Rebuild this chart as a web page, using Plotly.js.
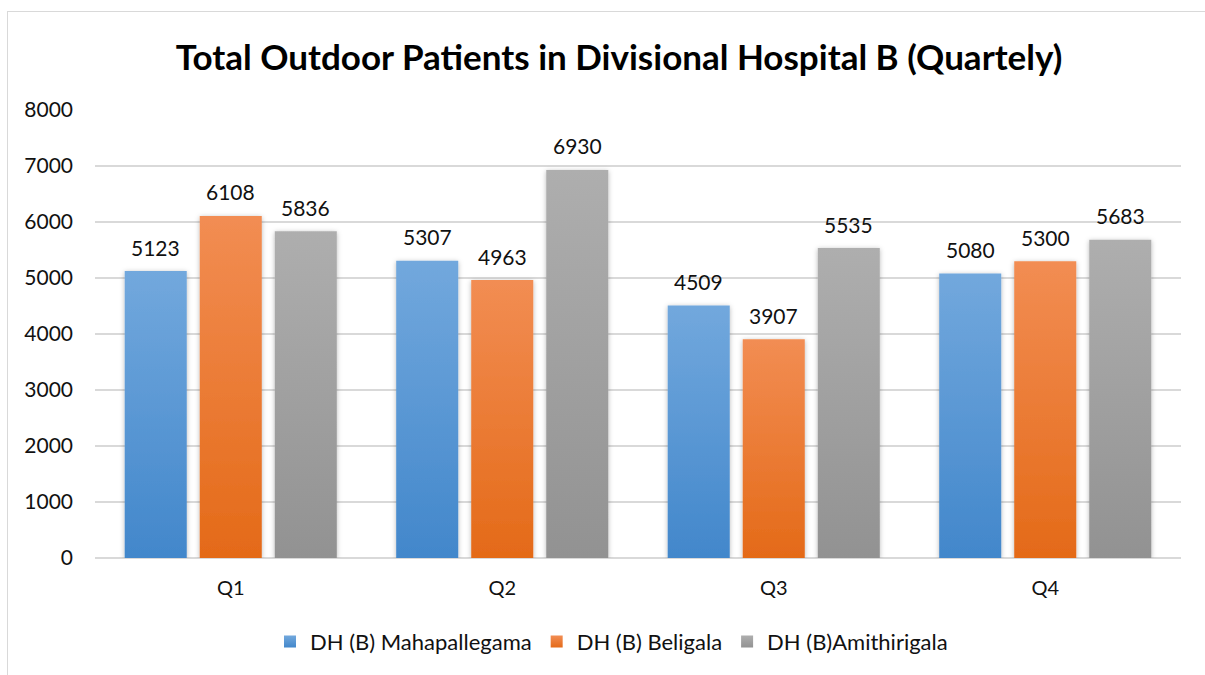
<!DOCTYPE html>
<html>
<head>
<meta charset="utf-8">
<script src="https://cdn.plot.ly/plotly-3.0.1.min.js"></script>
<style>
  html, body { margin: 0; padding: 0; background: #ffffff; overflow: hidden; }
  #chart { width: 1205px; height: 675px; position: absolute; left: 0; top: 0; }
  #frame { position: absolute; left: 7px; top: 11px; width: 1300px; height: 800px;
           border: 1.5px solid #d9d9d9; pointer-events: none; }
</style>
</head>
<body>
<div id="chart"></div>
<div id="frame"></div>
<script>
const categories = ["Q1", "Q2", "Q3", "Q4"];
const seriesNames = ["DH (B) Mahapallegama", "DH (B) Beligala", "DH (B)Amithirigala"];
const mahapallegama = [5123, 5307, 4509, 5080];
const beligala = [6108, 4963, 3907, 5300];
const amithirigala = [5836, 6930, 5535, 5683];
const seriesValues = [mahapallegama, beligala, amithirigala];
const yTicks = [0, 1000, 2000, 3000, 4000, 5000, 6000, 7000, 8000];

const midColors = ["#5897d4", "#ec7a35", "#a0a0a0"];
const topColors = ["#72a8dd", "#f28d53", "#aeaeae"];
const botColors = ["#4287cb", "#e46a18", "#929292"];

const FONT = "Lato, 'Open Sans', sans-serif";

const traces = seriesValues.map((vals, i) => ({
  type: "bar",
  name: seriesNames[i],
  x: categories,
  y: vals,
  marker: { color: midColors[i], line: { width: 0 } },
  hoverinfo: "x+y+name"
}));

// Data labels derived from the data arrays; offset to the bar slot inside each group
const slotPx = 75;
const annotations = [];
seriesValues.forEach((vals, i) => {
  vals.forEach((v, j) => {
    annotations.push({
      x: categories[j], y: v, xref: "x", yref: "y",
      text: String(v), showarrow: false,
      xshift: (i - 1) * slotPx, yshift: 24, yanchor: "middle",
      font: { family: FONT, size: 21, color: "#111111" }
    });
  });
});

const layout = {
  width: 1205, height: 675,
  margin: { l: 95, r: 24, t: 110, b: 115, pad: 0 },
  paper_bgcolor: "rgba(0,0,0,0)",
  plot_bgcolor: "rgba(0,0,0,0)",
  title: {
    text: "<b>Total Outdoor Patients in Divisional Hospital B (Quartely)</b>",
    font: { family: FONT, size: 35, color: "#000000" },
    x: 0.4825, xref: "paper", xanchor: "center",
    y: 1 - 58 / 675, yref: "container", yanchor: "middle"
  },
  barmode: "group",
  bargap: 0.171,
  bargroupgap: 0.173,
  showlegend: true,
  legend: {
    orientation: "h", x: 0.4756, xanchor: "center", y: -0.187, yanchor: "middle",
    font: { family: FONT, size: 22, color: "#111111" },
    itemclick: false, itemdoubleclick: false, traceorder: "normal"
  },
  xaxis: {
    type: "category",
    showgrid: false, zeroline: false, showline: false, ticks: "",
    tickfont: { family: FONT, size: 20, color: "#111111" },
    ticklabelstandoff: 16
  },
  yaxis: {
    range: [0, 8000], tickvals: yTicks, ticktext: yTicks.map(String),
    showgrid: true, gridcolor: "#d9d9d9", gridwidth: 1.3,
    zeroline: true, zerolinecolor: "#d9d9d9", zerolinewidth: 1.3,
    showline: false, ticks: "",
    tickfont: { family: FONT, size: 21, color: "#111111" },
    ticklabelstandoff: 21
  },
  annotations: annotations
};

Plotly.newPlot("chart", traces, layout, { displayModeBar: false, staticPlot: true }).then(gd => {
  const svgNS = "http://www.w3.org/2000/svg";
  const svg = gd.querySelector("svg.main-svg");
  let defs = svg.querySelector("defs");
  if (!defs) { defs = document.createElementNS(svgNS, "defs"); svg.insertBefore(defs, svg.firstChild); }
  // soft shadow
  const filt = document.createElementNS(svgNS, "filter");
  filt.setAttribute("id", "barShadow");
  filt.setAttribute("x", "-20%"); filt.setAttribute("y", "-5%");
  filt.setAttribute("width", "140%"); filt.setAttribute("height", "115%");
  const ds = document.createElementNS(svgNS, "feDropShadow");
  ds.setAttribute("dx", "0"); ds.setAttribute("dy", "1");
  ds.setAttribute("stdDeviation", "2.5");
  ds.setAttribute("flood-color", "#000"); ds.setAttribute("flood-opacity", "0.28");
  filt.appendChild(ds);
  defs.appendChild(filt);
  seriesValues.forEach((_, i) => {
    const g = document.createElementNS(svgNS, "linearGradient");
    g.setAttribute("id", "grad" + i);
    g.setAttribute("x1", "0"); g.setAttribute("y1", "0");
    g.setAttribute("x2", "0"); g.setAttribute("y2", "1");
    [[0, topColors[i]], [1, botColors[i]]].forEach(([o, c]) => {
      const s = document.createElementNS(svgNS, "stop");
      s.setAttribute("offset", String(o)); s.setAttribute("stop-color", c);
      g.appendChild(s);
    });
    defs.appendChild(g);
  });
  const barTraces = gd.querySelectorAll(".barlayer .trace");
  barTraces.forEach((t, i) => {
    t.querySelectorAll("path").forEach(p => {
      p.style.fill = "url(#grad" + i + ")";
      p.setAttribute("filter", "url(#barShadow)");
    });
  });
  const legTraces = gd.querySelectorAll(".legend .traces");
  legTraces.forEach((t, i) => {
    t.querySelectorAll(".legendpoints path").forEach(p => { p.style.fill = "url(#grad" + i + ")"; });
  });
});
</script>
</body>
</html>
